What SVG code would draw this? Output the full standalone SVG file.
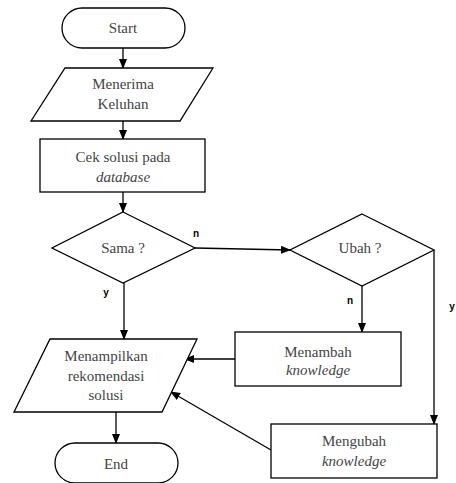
<svg xmlns="http://www.w3.org/2000/svg" width="456" height="483" viewBox="0 0 456 483">
<defs>
<marker id="ah" markerWidth="10" markerHeight="8" refX="9" refY="4" orient="auto" markerUnits="userSpaceOnUse">
<path d="M0,0 L10,4 L0,8 Z" fill="#000"/>
</marker>
<style>
.s{fill:#fff;stroke:#000;stroke-width:1.3}
.c{fill:none;stroke:#000;stroke-width:1.3;marker-end:url(#ah)}
.t{font-family:'Liberation Serif','DejaVu Serif',serif;font-size:15px;fill:#444;text-anchor:middle}
.i{font-style:italic}
.b{font-family:'Liberation Sans','DejaVu Sans',sans-serif;font-size:10px;font-weight:bold;fill:#000;text-anchor:middle}
</style>
</defs>
<rect width="456" height="483" fill="#fff"/>
<g id="connectors">
<line class="c" x1="123" y1="48" x2="123" y2="68"/>
<line class="c" x1="123" y1="121" x2="123" y2="139"/>
<line class="c" x1="123" y1="192" x2="123" y2="212"/>
<line class="c" x1="195" y1="248" x2="290" y2="250"/>
<line class="c" x1="124" y1="283" x2="124" y2="339"/>
<line class="c" x1="362" y1="286" x2="362" y2="332"/>
<polyline class="c" points="434,250 434,424"/>
<line class="c" x1="235" y1="359" x2="185" y2="359"/>
<line class="c" x1="271" y1="450" x2="171" y2="392"/>
<line class="c" x1="116" y1="412" x2="116" y2="443"/>
<text class="b" x="196" y="237">n</text>
<text class="b" x="106" y="296">y</text>
<text class="b" x="350" y="304">n</text>
<text class="b" x="452" y="310">y</text>
</g>
<g id="start">
<rect class="s" x="62" y="8" width="123" height="40" rx="20" ry="20"/>
<text class="t" x="123" y="33">Start</text>
</g>
<g id="menerima">
<polygon class="s" points="65,68 213,68 180,121 31,121"/>
<text class="t" x="123" y="89">Menerima</text>
<text class="t" x="123" y="109">Keluhan</text>
</g>
<g id="cek">
<rect class="s" x="40" y="139" width="165" height="53"/>
<text class="t" x="123" y="162">Cek solusi pada</text>
<text class="t i" x="123" y="182">database</text>
</g>
<g id="sama">
<polygon class="s" points="123,212 195,248 123,283 52,248"/>
<text class="t" x="123" y="253">Sama ?</text>
</g>
<g id="ubah">
<polygon class="s" points="362,214 434,250 362,286 290,250"/>
<text class="t" x="360" y="253">Ubah ?</text>
</g>
<g id="menampilkan">
<polygon class="s" points="50,339 197,339 162,412 14,412"/>
<text class="t" x="106" y="361">Menampilkan</text>
<text class="t" x="106" y="381">rekomendasi</text>
<text class="t" x="106" y="400">solusi</text>
</g>
<g id="menambah">
<rect class="s" x="235" y="332" width="166" height="54"/>
<text class="t" x="318" y="357">Menambah</text>
<text class="t i" x="318" y="375">knowledge</text>
</g>
<g id="mengubah">
<rect class="s" x="271" y="424" width="166" height="54"/>
<text class="t" x="354" y="446">Mengubah</text>
<text class="t i" x="354" y="466">knowledge</text>
</g>
<g id="end">
<rect class="s" x="55" y="443" width="123" height="40" rx="20" ry="20"/>
<text class="t" x="116" y="469">End</text>
</g>
</svg>
